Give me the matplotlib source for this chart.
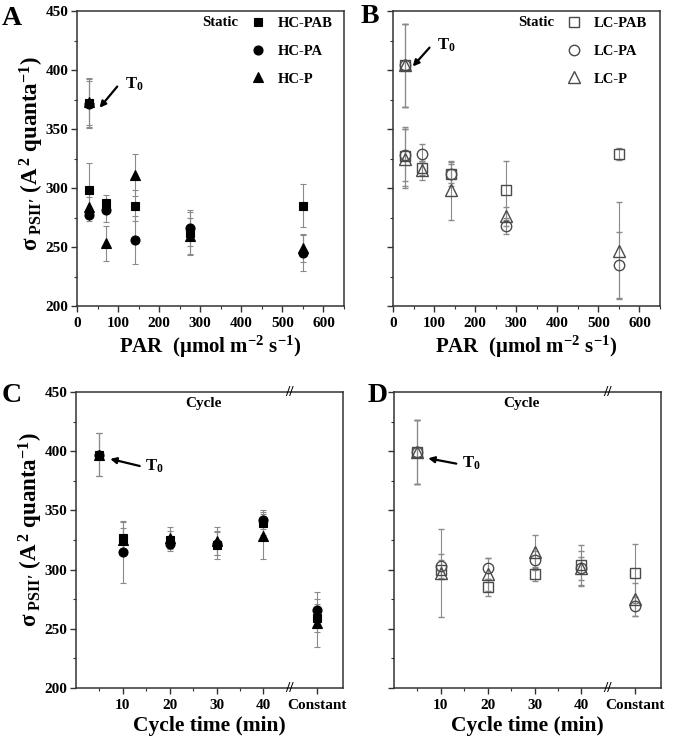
import matplotlib
matplotlib.use('Agg')
import matplotlib.pyplot as plt
import matplotlib.transforms as mtransforms
from matplotlib.lines import Line2D

plt.rcParams['font.family'] = ['Liberation Serif', 'DejaVu Serif']
plt.rcParams['font.weight'] = 'bold'
plt.rcParams['axes.labelweight'] = 'bold'
plt.rcParams['mathtext.fontset'] = 'custom'
plt.rcParams['mathtext.rm'] = 'Liberation Serif:bold'
plt.rcParams['mathtext.it'] = 'Liberation Serif:bold'
plt.rcParams['mathtext.bf'] = 'Liberation Serif:bold'

# ---- static light (PAR) ----
par = [30, 70, 140, 275, 550]
par_t0 = 30
par_ticks = [0, 100, 200, 300, 400, 500, 600]

hc_t0 = [372, 371, 373]
hc_t0_err = [20, 20, 20]
hc_pab = [298, 287, 285, 262, 285]
hc_pab_err = [23, 7, 13, 18, 18]
hc_pa = [277, 281, 256, 266, 245]
hc_pa_err = [5, 10, 20, 15, 15]
hc_p = [284, 253, 311, 259, 249]
hc_p_err = [8, 15, 18, 16, 12]

lc_t0 = [404, 404, 404]
lc_t0_err = [35, 35, 35]
lc_pab = [327, 317, 312, 298, 329]
lc_pab_err = [25, 6, 10, 25, 5]
lc_pa = [328, 329, 312, 268, 235]
lc_pa_err = [22, 8, 8, 7, 28]
lc_p = [325, 315, 298, 276, 247]
lc_p_err = [25, 8, 25, 8, 41]

# ---- cycle ----
cycle_x = [10, 20, 30, 40, 51.5]
cycle_labels = ['10', '20', '30', '40', 'Constant']
cycle_t0 = 5

hcc_t0 = [397, 397, 397]
hcc_t0_err = [18, 18, 18]
hcc_pab = [327, 325, 321, 339, 259]
hcc_pab_err = [13, 8, 12, 10, 12]
hcc_pa = [315, 322, 322, 342, 266]
hcc_pa_err = [26, 6, 10, 8, 15]
hcc_p = [325, 327, 324, 328, 255]
hcc_p_err = [10, 9, 12, 19, 20]

lcc_t0 = [399, 399, 399]
lcc_t0_err = [27, 27, 27]
lcc_pab = [300, 285, 296, 304, 297]
lcc_pab_err = [8, 7, 6, 17, 25]
lcc_pa = [303, 301, 308, 301, 269]
lcc_pa_err = [10, 9, 8, 10, 8]
lcc_p = [297, 296, 315, 301, 275]
lcc_p_err = [37, 14, 14, 15, 14]

y_ticks = [200, 250, 300, 350, 400, 450]

markers = ['s', 'o', '^']
msizes = [6, 6.5, 7.5]
ecol = '#8a8a8a'
TICK_FS = 11

fig = plt.figure(figsize=(6.77, 7.41), dpi=100)
W, H = 677, 741


def add_ax(x0, y0, x1, y1):
    return fig.add_axes([x0 / W, 1 - y1 / H, (x1 - x0) / W, (y1 - y0) / H])


axA = add_ax(77, 11, 344, 306)
axB = add_ax(393, 11, 660, 306)
axC = add_ax(76, 392, 343, 688)
axD = add_ax(394, 392, 661, 688)


def style(ax, ylabels=True):
    for s in ax.spines.values():
        s.set_color('#333333')
        s.set_linewidth(1.1)
    ax.set_ylim(200, 450)
    if ylabels:
        ax.set_yticks(y_ticks, [str(v) for v in y_ticks], fontsize=TICK_FS, fontweight='bold')
    else:
        ax.set_yticks(y_ticks, [''] * len(y_ticks))
    ax.set_yticks(range(200, 451, 25), minor=True)
    ax.tick_params(which='major', direction='out', length=4, width=1, color='#333333', pad=2)
    ax.tick_params(axis='x', which='major', pad=4)
    ax.tick_params(which='minor', direction='out', length=2.5, width=0.8, color='#333333')


def marker_kw(filled):
    if filled:
        return dict(mfc='black', mec='black', mew=0.8)
    return dict(mfc='none', mec='#4a4a4a', mew=1.0)


def draw_series(ax, xs, x0, series, t0, t0err, filled):
    for i, (vals, errs) in enumerate(series):
        ax.errorbar([x0] + list(xs), [t0[i]] + list(vals), yerr=[t0err[i]] + list(errs),
                    fmt=markers[i], ms=msizes[i] + (0 if filled else 1), ecolor=ecol,
                    elinewidth=0.8, capsize=2.5, capthick=0.8, zorder=3,
                    **marker_kw(filled))


def legend(ax, tag, labels, filled):
    ax.text(0.535, 0.962, tag, transform=ax.transAxes, ha='center', va='center',
            fontsize=10.5, fontweight='bold')
    handles = [Line2D([], [], ls='none', marker=markers[i],
                      ms=msizes[i] + (0 if filled else 1), **marker_kw(filled))
               for i in range(3)]
    ax.legend(handles, labels, loc='upper left', bbox_to_anchor=(0.6, 1.02),
              frameon=False, prop={'size': 10.5, 'weight': 'bold'}, handlelength=1.2,
              handletextpad=0.8, labelspacing=1.0, borderpad=0.3)


def t0_arrow(ax, head, tail, txt):
    ax.annotate('', xy=head, xytext=tail,
                arrowprops=dict(arrowstyle='-|>', color='black', lw=1.6,
                                mutation_scale=9, shrinkA=0, shrinkB=0))
    ax.text(txt[0], txt[1], r'T$_{\mathregular{0}}$', fontsize=12, ha='left', va='center')


ylab = (r'$\sigma_{\ \mathregular{PSII\prime}}$' +
        r' (A$^{\mathregular{\,2}}$ quanta$^{\mathregular{-1}}$)')
parlab = r'PAR  ($\mathregular{\mu}$mol m$^{\mathregular{-2}}$ s$^{\mathregular{-1}}$)'


def par_axes(ax, ylabels):
    style(ax, ylabels)
    ax.set_xlim(0, 640)
    ax.set_xticks(par_ticks, [str(v) for v in par_ticks], fontsize=TICK_FS, fontweight='bold')
    ax.set_xticks(range(0, 651, 50), minor=True)
    ax.set_xlabel(parlab, fontsize=15, labelpad=3)


# ---- A ----
par_axes(axA, True)
draw_series(axA, par, par_t0, [(hc_pab, hc_pab_err), (hc_pa, hc_pa_err), (hc_p, hc_p_err)],
            hc_t0, hc_t0_err, True)
axA.set_ylabel(ylab, fontsize=16.5)
axA.yaxis.set_label_coords(-0.115, 0.515)
legend(axA, 'Static', ['HC-PAB', 'HC-PA', 'HC-P'], True)
t0_arrow(axA, (55, 368), (98, 386), (118, 388))

# ---- B ----
par_axes(axB, False)
draw_series(axB, par, par_t0, [(lc_pab, lc_pab_err), (lc_pa, lc_pa_err), (lc_p, lc_p_err)],
            lc_t0, lc_t0_err, False)
legend(axB, 'Static', ['LC-PAB', 'LC-PA', 'LC-P'], False)
t0_arrow(axB, (48, 403), (89, 419), (107, 421))


# ---- C / D ----
def cycle_axes(ax, ylabels):
    style(ax, ylabels)
    ax.set_xlim(0, 57)
    ax.set_xticks(cycle_x, cycle_labels, fontsize=TICK_FS, fontweight='bold')
    ax.set_xticks([5, 15, 25, 35], minor=True)
    ax.set_xlabel('Cycle time (min)', fontsize=15.5, labelpad=3)
    ax.text(27.2, 440, 'Cycle', ha='center', va='center', fontsize=11)
    tr = mtransforms.blended_transform_factory(ax.transData, ax.transAxes)
    for yy in (0, 1):
        ax.text(45.5, yy, '//', transform=tr, ha='center', va='center', fontsize=11,
                clip_on=False, zorder=5)


cycle_axes(axC, True)
draw_series(axC, cycle_x, cycle_t0,
            [(hcc_pab, hcc_pab_err), (hcc_pa, hcc_pa_err), (hcc_p, hcc_p_err)],
            hcc_t0, hcc_t0_err, True)
axC.set_ylabel(ylab, fontsize=16.5)
axC.yaxis.set_label_coords(-0.115, 0.535)
t0_arrow(axC, (7.3, 393.5), (13.6, 387.5), (14.8, 387.5))

cycle_axes(axD, False)
draw_series(axD, cycle_x, cycle_t0,
            [(lcc_pab, lcc_pab_err), (lcc_pa, lcc_pa_err), (lcc_p, lcc_p_err)],
            lcc_t0, lcc_t0_err, False)
t0_arrow(axD, (7.3, 394), (13.3, 389.5), (14.6, 389.5))

# panel letters
for lab, x, y in [('A', 2, 6), ('B', 361, 4), ('C', 2, 383), ('D', 368, 383)]:
    fig.text(x / W, 1 - y / H, lab, fontsize=20, fontweight='bold', ha='left', va='top')

fig.savefig('out.png', dpi=100)
